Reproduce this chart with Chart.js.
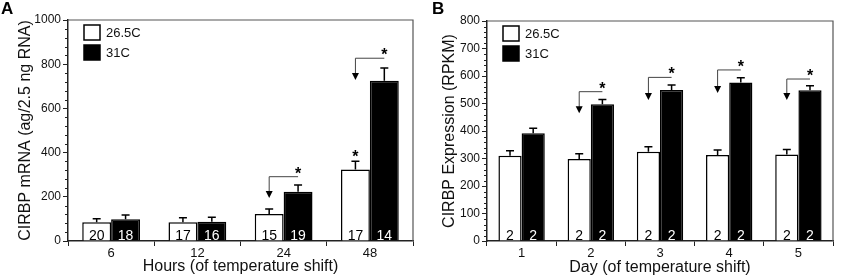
<!DOCTYPE html>
<html>
<head>
<meta charset="utf-8">
<script src="https://cdn.jsdelivr.net/npm/chart.js@4.4.1/dist/chart.umd.min.js"></script>
<style>
  html, body { margin: 0; padding: 0; background: #fff; }
  #wrap { position: relative; width: 844px; height: 280px; overflow: hidden; }
  .panel { position: absolute; top: 0; }
  .tag { position: absolute; top: 0; font: bold 17px 'Liberation Sans', Arial, sans-serif; color: #000; line-height: 17px; }
</style>
</head>
<body>
<div id="wrap">
  <canvas id="chartA" class="panel" width="430" height="280" style="left:0"></canvas>
  <canvas id="chartB" class="panel" width="414" height="280" style="left:430px"></canvas>
  <div class="tag" style="left:1px">A</div>
  <div class="tag" style="left:432px">B</div>
</div>

<script>
// series names
const seriesNames = ['26.5C', '31C'];

// panel A - hours
const hourLabels = ['6', '12', '24', '48'];
const hourCool = [85, 85, 122, 324];
const hourCoolErr = [16, 20, 23, 37];
const hourCoolN = [20, 17, 15, 17];
const hourWarm = [98, 87, 223, 725];
const hourWarmErr = [20, 20, 30, 58];
const hourWarmN = [18, 16, 19, 14];
// significance brackets (data units): category, level of the bar line, arrow tip
const hourBrackets = [
  { index: 2, line: 291, arrow: 195 },
  { index: 3, line: 827, arrow: 729 }
];
const hourStars = [{ index: 3, series: 0, value: 400 }];

// panel B - days
const dayLabels = ['1', '2', '3', '4', '5'];
const dayCool = [310, 298, 325, 313, 315];
const dayCoolErr = [18, 19, 18, 18, 18];
const dayCoolN = [2, 2, 2, 2, 2];
const dayWarm = [392, 497, 549, 576, 548];
const dayWarmErr = [18, 18, 18, 18, 17];
const dayWarmN = [2, 2, 2, 2, 2];
const dayBrackets = [
  { index: 1, line: 543, arrow: 465 },
  { index: 2, line: 595, arrow: 513 },
  { index: 3, line: 622, arrow: 538 },
  { index: 4, line: 589, arrow: 513 }
];
const dayStars = [];

const FONT = "'Liberation Sans', Arial, Helvetica, sans-serif";
Chart.defaults.font.family = FONT;
Chart.defaults.color = '#111';

function drawStar(ctx, x, cy) {
  ctx.font = 'bold 16px ' + FONT;
  ctx.textAlign = 'center';
  ctx.textBaseline = 'alphabetic';
  ctx.fillStyle = '#000';
  ctx.fillText('*', x, cy + 9);
}

function makeExtras(cfg) {
  return {
    id: 'panelExtras',
    afterDatasetsDraw(chart) {
      const ctx = chart.ctx;
      const area = chart.chartArea;
      const ys = chart.scales.y;
      const cool = chart.getDatasetMeta(0).data;
      const warm = chart.getDatasetMeta(1).data;
      ctx.save();

      // error bars (upper only)
      [[cool, cfg.cool, cfg.coolErr], [warm, cfg.warm, cfg.warmErr]].forEach(([bars, vals, errs]) => {
        bars.forEach((bar, i) => {
          const top = ys.getPixelForValue(vals[i] + errs[i]);
          ctx.strokeStyle = '#000';
          ctx.lineWidth = 1.5;
          ctx.beginPath();
          ctx.moveTo(bar.x, bar.y);
          ctx.lineTo(bar.x, top);
          ctx.moveTo(bar.x - 4, top);
          ctx.lineTo(bar.x + 4, top);
          ctx.stroke();
        });
      });

      // n inside bars
      ctx.font = '14px ' + FONT;
      ctx.textAlign = 'center';
      ctx.textBaseline = 'alphabetic';
      cool.forEach((bar, i) => {
        ctx.fillStyle = '#000';
        ctx.fillText(String(cfg.coolN[i]), bar.x, area.bottom - 1.5);
      });
      warm.forEach((bar, i) => {
        ctx.fillStyle = '#fff';
        ctx.fillText(String(cfg.warmN[i]), bar.x, area.bottom - 1.5);
      });

      // brackets with arrow + star
      cfg.brackets.forEach(b => {
        const x1 = cool[b.index].x, x2 = warm[b.index].x;
        const yl = ys.getPixelForValue(b.line), ya = ys.getPixelForValue(b.arrow);
        ctx.strokeStyle = '#444';
        ctx.lineWidth = 1;
        ctx.beginPath();
        ctx.moveTo(x2, yl);
        ctx.lineTo(x1, yl);
        ctx.lineTo(x1, ya - 6);
        ctx.stroke();
        ctx.fillStyle = '#000';
        ctx.beginPath();
        ctx.moveTo(x1 - 3.5, ya - 7);
        ctx.lineTo(x1 + 3.5, ya - 7);
        ctx.lineTo(x1, ya);
        ctx.closePath();
        ctx.fill();
        drawStar(ctx, x2, yl - 7);
      });
      cfg.stars.forEach(s => {
        const bar = chart.getDatasetMeta(s.series).data[s.index];
        drawStar(ctx, bar.x, ys.getPixelForValue(s.value));
      });

      // minor ticks on y
      ctx.strokeStyle = '#222';
      ctx.lineWidth = 1;
      for (let v = cfg.minor; v < cfg.yMax; v += cfg.minor) {
        if (v % cfg.yStep === 0) continue;
        const py = Math.round(ys.getPixelForValue(v)) + 0.5;
        ctx.beginPath();
        ctx.moveTo(area.left - 3, py);
        ctx.lineTo(area.left, py);
        ctx.stroke();
      }

      // frame top/right
      ctx.strokeStyle = '#555';
      ctx.lineWidth = 1.2;
      ctx.beginPath();
      ctx.moveTo(area.left, area.top);
      ctx.lineTo(area.right, area.top);
      ctx.lineTo(area.right, area.bottom);
      ctx.stroke();

      // legend inside plot
      chart.data.datasets.forEach((ds, i) => {
        const bx = area.left + 16, by = area.top + 5 + i * 20;
        ctx.fillStyle = ds.backgroundColor;
        ctx.fillRect(bx, by, 16, 15);
        ctx.strokeStyle = '#000';
        ctx.lineWidth = 1.5;
        ctx.strokeRect(bx, by, 16, 15);
        ctx.fillStyle = '#111';
        ctx.font = '13px ' + FONT;
        ctx.textAlign = 'left';
        ctx.textBaseline = 'middle';
        ctx.fillText(ds.label, bx + 22, by + 8);
      });
      ctx.restore();
    }
  };
}

function makeChart(id, cfg) {
  return new Chart(document.getElementById(id), {
    type: 'bar',
    data: {
      labels: cfg.labels,
      datasets: [
        { label: seriesNames[0], data: cfg.cool, backgroundColor: '#fff', borderColor: '#000', borderWidth: 1.5 },
        { label: seriesNames[1], data: cfg.warm, backgroundColor: '#000', borderColor: '#000', borderWidth: 1.5 }
      ]
    },
    options: {
      responsive: false,
      devicePixelRatio: 1,
      animation: false,
      events: [],
      datasets: { bar: { categoryPercentage: 0.67, barPercentage: 1 } },
      layout: { padding: { top: cfg.padTop, right: cfg.padRight, left: 0, bottom: 0 } },
      plugins: { legend: { display: false }, tooltip: { enabled: false } },
      scales: {
        x: {
          ticks: { font: { size: 13 }, color: '#111', padding: 0 },
          grid: { drawOnChartArea: false, tickLength: 5, tickColor: '#222', offset: true },
          border: { color: '#222', width: 1.5 },
          title: { display: true, text: cfg.xTitle, font: { size: 16 }, color: '#111', padding: { top: 0, bottom: cfg.xTitlePad } },
          afterFit: s => { s.height = 39; }
        },
        y: {
          min: 0,
          max: cfg.yMax,
          ticks: { stepSize: cfg.yStep, font: { size: 12 }, color: '#111', padding: 2, callback: v => String(v) },
          grid: { drawOnChartArea: false, tickLength: 5, tickColor: '#222' },
          border: { color: '#222', width: 1.5 },
          title: { display: true, text: cfg.yTitle, font: { size: 16 }, color: '#111', padding: { top: cfg.yTitlePad, bottom: 0 } },
          afterFit: s => { s.width = cfg.yWidth; }
        }
      }
    },
    plugins: [makeExtras(cfg)]
  });
}

makeChart('chartA', {
  labels: hourLabels, cool: hourCool, coolErr: hourCoolErr, coolN: hourCoolN,
  warm: hourWarm, warmErr: hourWarmErr, warmN: hourWarmN,
  brackets: hourBrackets, stars: hourStars,
  yMax: 1000, yStep: 200, minor: 40,
  yTitle: 'CIRBP mRNA (ag/2.5 ng RNA)', xTitle: 'Hours (of temperature shift)',
  yWidth: 68, padTop: 20, padRight: 17, yTitlePad: 16, xTitlePad: 4
});

makeChart('chartB', {
  labels: dayLabels, cool: dayCool, coolErr: dayCoolErr, coolN: dayCoolN,
  warm: dayWarm, warmErr: dayWarmErr, warmN: dayWarmN,
  brackets: dayBrackets, stars: dayStars,
  yMax: 800, yStep: 100, minor: 20,
  yTitle: 'CIRBP Expression (RPKM)', xTitle: 'Day (of temperature shift)',
  yWidth: 57, padTop: 21, padRight: 11, yTitlePad: 10, xTitlePad: 3
});
</script>
</body>
</html>
